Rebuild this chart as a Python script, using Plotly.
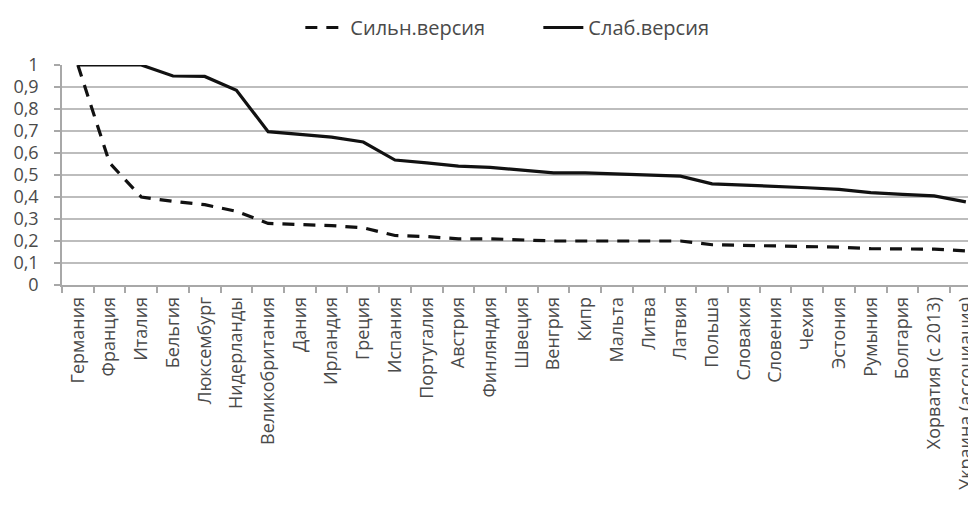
import plotly.graph_objects as go

countries = ["Германия", "Франция", "Италия", "Бельгия", "Люксембург", "Нидерланды",
             "Великобритания", "Дания", "Ирландия", "Греция", "Испания", "Португалия",
             "Австрия", "Финляндия", "Швеция", "Венгрия", "Кипр", "Мальта", "Литва",
             "Латвия", "Польша", "Словакия", "Словения", "Чехия", "Эстония", "Румыния",
             "Болгария", "Хорватия (с 2013)", "Украина (ассоциация)"]

strong_version = [1.0, 0.555, 0.40, 0.38, 0.365, 0.335, 0.28, 0.275, 0.27, 0.26, 0.225, 0.22,
                  0.21, 0.21, 0.205, 0.20, 0.20, 0.20, 0.20, 0.20, 0.183, 0.18, 0.178, 0.175,
                  0.172, 0.165, 0.165, 0.163, 0.155]

weak_version = [1.0, 1.0, 1.0, 0.95, 0.948, 0.885, 0.697, 0.685, 0.672, 0.65, 0.568, 0.555,
                0.54, 0.535, 0.522, 0.51, 0.51, 0.505, 0.50, 0.495, 0.46, 0.455, 0.45, 0.442,
                0.435, 0.42, 0.412, 0.405, 0.378]

y_ticks = [0, 0.1, 0.2, 0.3, 0.4, 0.5, 0.6, 0.7, 0.8, 0.9, 1]
y_tick_labels = ["0", "0,1", "0,2", "0,3", "0,4", "0,5", "0,6", "0,7", "0,8", "0,9", "1"]

font_family = "'Open Sans', Lato, sans-serif"
text_color = "#4a4a4a"

fig = go.Figure()
fig.add_trace(go.Scatter(x=countries, y=strong_version, mode="lines", name="Сильн.версия",
                         line=dict(color="#111111", width=3.2, dash="12px,9px")))
fig.add_trace(go.Scatter(x=countries, y=weak_version, mode="lines", name="Слаб.версия",
                         line=dict(color="#111111", width=3.2)))

fig.update_layout(
    width=968, height=501,
    margin=dict(l=54, r=0, t=57, b=224, autoexpand=False),
    paper_bgcolor="white", plot_bgcolor="white",
    font=dict(family=font_family, color=text_color),
    showlegend=True,
    legend=dict(orientation="h", xref="container", x=0.302, xanchor="left",
                yref="container", y=1.0, yanchor="top",
                font=dict(size=20, family=font_family, color=text_color),
                itemwidth=40, entrywidth=183, entrywidthmode="pixels",
                bgcolor="rgba(0,0,0,0)"),
)

fig.update_xaxes(
    type="category", range=[-0.5, 28.32], tickangle=-90, tickson="boundaries",
    ticks="outside", ticklen=6, tickcolor="#a8a8a8", tickwidth=1.5,
    showline=True, linecolor="#a8a8a8", linewidth=1.5, automargin=False,
    showgrid=False, ticklabelstandoff=3,
    tickfont=dict(size=18, family=font_family, color=text_color),
    fixedrange=True,
)
fig.update_yaxes(
    range=[0, 1.0], tickvals=y_ticks, ticktext=y_tick_labels,
    ticks="outside", ticklen=6, tickcolor="#a8a8a8", tickwidth=1.5,
    showline=True, linecolor="#a8a8a8", linewidth=1.5, automargin=False,
    showgrid=True, gridcolor="#bdbdbd", gridwidth=1.5, zeroline=False,
    ticklabelstandoff=12,
    tickfont=dict(size=18, family=font_family, color=text_color),
    fixedrange=True,
)

fig.write_html("out.html")
